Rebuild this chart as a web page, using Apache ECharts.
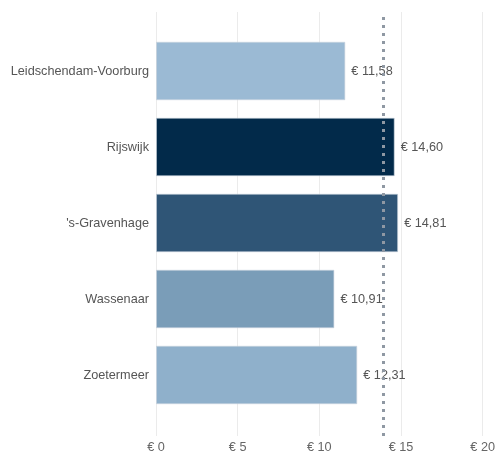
<!DOCTYPE html>
<html><head><meta charset="utf-8">
<script src="https://cdn.jsdelivr.net/npm/echarts@6/dist/echarts.min.js"></script>
<style>html,body{margin:0;padding:0;background:#fff}#c{width:498px;height:455px}</style>
</head><body><div id="c"></div>
<script>
const categories = ['Leidschendam-Voorburg', 'Rijswijk', "'s-Gravenhage", 'Wassenaar', 'Zoetermeer'];
const values = [11.58, 14.60, 14.81, 10.91, 12.31];
const barColors = ['#9bbad4', '#022a4a', '#2f5576', '#7a9db8', '#8fb0cb'];
const referenceValue = 13.9;
const xTicks = [0, 5, 10, 15, 20];

const chart = echarts.init(document.getElementById('c'));
const fmt = v => '€ ' + v.toFixed(2).replace('.', ',');
chart.setOption({
  animation: false,
  textStyle: { fontFamily: 'Arial, Liberation Sans, sans-serif' },
  grid: [
    { left: 156, right: 15, top: 12, bottom: 19 },
    { left: 156, right: 15, top: 33, height: 380 }
  ],
  xAxis: [
    { gridIndex: 0, type: 'value', min: xTicks[0], max: xTicks[xTicks.length - 1], interval: 5,
      axisLine: { show: false }, axisTick: { show: false },
      splitLine: { show: true, lineStyle: { color: '#ebebeb', width: 1 } },
      axisLabel: { color: '#666', fontSize: 12.7, margin: 5, formatter: v => '€ ' + v } },
    { gridIndex: 1, type: 'value', min: 0, max: 20, interval: 5, show: false }
  ],
  yAxis: [
    { gridIndex: 0, type: 'value', min: 0, max: 1, show: false },
    { gridIndex: 1, type: 'category', data: categories, inverse: true,
      axisLine: { show: false }, axisTick: { show: false },
      axisLabel: { color: '#555', fontSize: 12.7, margin: 7 } }
  ],
  series: [
    { type: 'line', xAxisIndex: 0, yAxisIndex: 0, data: [], silent: true,
      markLine: { symbol: 'none', silent: true, label: { show: false },
        lineStyle: { color: '#8f98a3', type: [3, 5], width: 3 },
        data: [{ xAxis: referenceValue }] } },
    { type: 'bar', xAxisIndex: 1, yAxisIndex: 1, barCategoryGap: '23%',
      data: values.map((v, i) => ({ value: v, itemStyle: { color: barColors[i] } })),
      itemStyle: { borderColor: 'rgba(200,210,220,0.6)', borderWidth: 1 },
      label: { show: true, position: 'right', distance: 6, color: '#555', fontSize: 12.7,
        formatter: p => fmt(p.value) } }
  ]
});
</script></body></html>
